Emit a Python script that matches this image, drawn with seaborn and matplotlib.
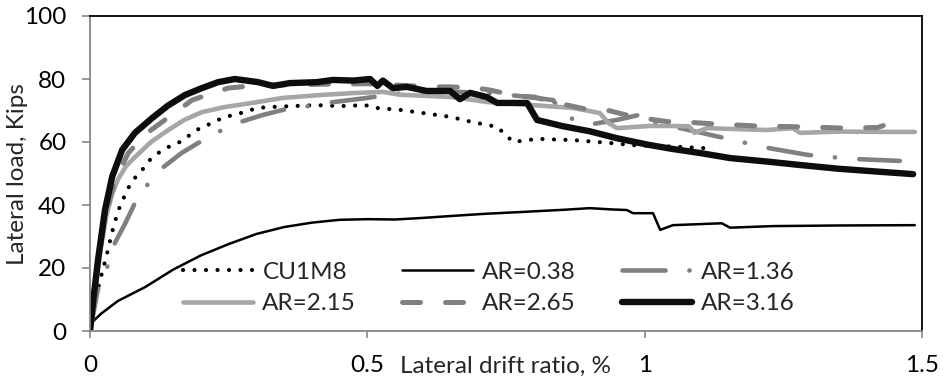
import matplotlib
matplotlib.use("Agg")
import matplotlib.pyplot as plt
import seaborn as sns
import pandas as pd

# Lateral load (kips) versus lateral drift ratio (%) for each wall
cu1m8_x = [0, 0.005, 0.01, 0.018, 0.031, 0.04, 0.05, 0.059, 0.069, 0.081, 0.094, 0.108,
           0.123, 0.141, 0.162, 0.18, 0.198, 0.22, 0.238, 0.258, 0.279, 0.301, 0.324,
           0.364, 0.409, 0.451, 0.496, 0.517, 0.559, 0.6, 0.649, 0.69, 0.734, 0.748,
           0.763, 0.806, 0.871, 0.937, 0.979, 1.03, 1.069, 1.112]
cu1m8_y = [0, 5, 10, 16, 24.8, 31.5, 37.8, 41.6, 45.4, 48.6, 51.1, 54.3, 56.5, 58.4, 60,
           62.2, 64.4, 66, 67.6, 68.6, 69.5, 70.8, 71.1, 71.4, 71.7, 71.4, 71.7, 70.8,
           70.2, 69.2, 68, 66.3, 64.8, 62.5, 60, 61, 60.6, 59.7, 59, 58.7, 58.4, 58]

ar038_x = [0, 0.005, 0.02, 0.05, 0.1, 0.15, 0.2, 0.25, 0.3, 0.35, 0.4, 0.45, 0.5,
           0.55, 0.6, 0.65, 0.712, 0.78, 0.856, 0.901, 0.94, 0.968, 0.979, 1.015,
           1.028, 1.051, 1.139, 1.154, 1.231, 1.35, 1.487]
ar038_y = [0, 3, 5.5, 9.5, 14, 19.5, 24, 27.6, 30.8, 33, 34.4, 35.3, 35.5, 35.4, 35.9,
           36.5, 37.2, 37.8, 38.5, 39, 38.6, 38.4, 37.4, 37.4, 32.1, 33.6, 34.2, 32.8,
           33.3, 33.5, 33.6]

ar136_x = [0, 0.014, 0.031, 0.045, 0.063, 0.081, 0.103, 0.132, 0.165, 0.198, 0.231,
           0.27, 0.31, 0.348, 0.39, 0.427, 0.5, 0.56, 0.65, 0.72, 0.78, 0.835, 0.853,
           0.896, 0.95, 0.99, 1.0, 1.01, 1.015, 1.1, 1.175, 1.213, 1.294, 1.338, 1.379,
           1.46]
ar136_y = [0, 13, 20.3, 28, 34, 40.6, 46.3, 52, 56.5, 60, 63.2, 66.3, 68.5, 70.2, 71.3,
           72.4, 74, 75.5, 76, 75.5, 74.5, 73.3, 68.6, 65.4, 67, 68.6, 69.5, 67, 66.3,
           63, 60, 58.4, 55.9, 55.2, 54.6, 54.0]

ar215_x = [0, 0.01, 0.02, 0.03, 0.04, 0.05, 0.065, 0.081, 0.11, 0.141, 0.17, 0.202,
           0.243, 0.292, 0.348, 0.415, 0.47, 0.528, 0.559, 0.649, 0.68, 0.715, 0.8,
           0.871, 0.919, 0.935, 0.95, 1.01, 1.04, 1.08, 1.09, 1.112, 1.22, 1.267, 1.28,
           1.35, 1.42, 1.487]
ar215_y = [0, 14, 27, 37, 43.5, 48, 52.3, 55.2, 60, 63.8, 67, 69.5, 71.1, 72.4, 74, 74.9,
           75.5, 75.9, 75, 74.3, 73.6, 72.7, 71.7, 70.8, 69.2, 66, 64.4, 65.1, 65.1, 65,
           62.9, 64.4, 63.8, 64.4, 62.9, 63.3, 63.2, 63.2]

ar265_x = [0, 0.01, 0.02, 0.03, 0.045, 0.069, 0.1, 0.135, 0.184, 0.22, 0.249, 0.3, 0.4,
           0.5, 0.56, 0.618, 0.649, 0.698, 0.721, 0.77, 0.8, 0.84, 0.9, 0.93, 0.98,
           1.04, 1.076, 1.13, 1.2, 1.285, 1.365, 1.42, 1.44, 1.46]
ar265_y = [0, 14, 28, 38, 48, 56.5, 62.5, 67, 73.3, 75.5, 77.1, 78, 78.3, 78.5, 78,
           77.5, 77.5, 77.1, 76.5, 74.6, 74.3, 72.5, 70.2, 70.2, 68, 66.5, 66.3, 65.7,
           65.1, 64.8, 64.4, 64.6, 65.8, 64.8]

ar316_x = [0, 0.006, 0.0144, 0.027, 0.04, 0.058, 0.081, 0.112, 0.14, 0.171, 0.2, 0.231,
           0.261, 0.303, 0.33, 0.36, 0.409, 0.438, 0.475, 0.505, 0.518, 0.528, 0.546,
           0.571, 0.607, 0.649, 0.667, 0.685, 0.715, 0.734, 0.788, 0.806, 0.853, 0.901,
           0.95, 1.004, 1.05, 1.1, 1.154, 1.22, 1.28, 1.35, 1.42, 1.484]
ar316_y = [0, 10, 22.5, 38.4, 49, 57.5, 62.9, 67.6, 71.5, 74.9, 77, 79, 80, 79, 77.8,
           78.7, 79, 79.7, 79.5, 80, 77.8, 79.5, 77.1, 77.5, 76.2, 76.2, 73.6, 75.6,
           74.3, 72.4, 72.4, 67, 65, 63.4, 61.2, 59.2, 57.8, 56.5, 54.9, 53.8, 52.7,
           51.5, 50.6, 49.8]

series_names = ["CU1M8", "AR=0.38", "AR=1.36", "AR=2.15", "AR=2.65", "AR=3.16"]
series_x = [cu1m8_x, ar038_x, ar136_x, ar215_x, ar265_x, ar316_x]
series_y = [cu1m8_y, ar038_y, ar136_y, ar215_y, ar265_y, ar316_y]

x_ticks = [0, 0.5, 1, 1.5]
x_tick_labels = ["0", "0.5", "1", "1.5"]
y_ticks = [0, 20, 40, 60, 80, 100]

frames = [pd.DataFrame({"drift": xs, "load": ys, "wall": name})
          for name, xs, ys in zip(series_names, series_x, series_y)]
data = pd.concat(frames, ignore_index=True)

sns.set_theme(style="white")
plt.rcParams["font.family"] = ["Lato", "DejaVu Sans"]
FS = 17.5

# colour, width (pt), dash pattern
styles = {
    "CU1M8":   dict(color="#000000", lw=3.0, ls=(0, (0.01, 2.75))),
    "AR=0.38": dict(color="#000000", lw=1.8, ls="-"),
    "AR=1.36": dict(color="#808080", lw=3.3, ls=(0, (9.4, 5.2, 0.05, 5.3))),
    "AR=2.15": dict(color="#a6a6a6", lw=3.3, ls="-"),
    "AR=2.65": dict(color="#808080", lw=3.6, ls=(0, (3.6, 5.0))),
    "AR=3.16": dict(color="#0d0d0d", lw=4.6, ls="-"),
}

fig = plt.figure(figsize=(9.43, 3.81), dpi=100)
ax = fig.add_axes([90 / 943, 1 - 331 / 381, 832 / 943, 315 / 381])

for name in series_names:
    st = styles[name]
    sns.lineplot(data=data[data["wall"] == name], x="drift", y="load", ax=ax,
                 sort=False, estimator=None, color=st["color"], linewidth=st["lw"],
                 linestyle=st["ls"], label=name, dash_capstyle="round",
                 solid_capstyle="round")

ax.set_xlim(0, 1.5)
ax.set_ylim(0, 100)
ax.set_xticks(x_ticks)
ax.set_xticklabels(x_tick_labels)
ax.set_yticks(y_ticks)
ax.set_xlabel("")
ax.set_ylabel("")

for side in ("left", "bottom"):
    ax.spines[side].set_color("#868686")
    ax.spines[side].set_linewidth(1.3)
for side in ("top", "right"):
    ax.spines[side].set_color("#000000")
    ax.spines[side].set_linewidth(1.3)
    ax.spines[side].set_visible(True)

ax.tick_params(axis="x", direction="out", length=5, width=1.2, color="#868686",
               pad=12, labelsize=FS, labelcolor="black", bottom=True)
ax.tick_params(axis="y", direction="out", length=6, width=1.2, color="#868686",
               pad=11, labelsize=FS, labelcolor="black", left=True)

fig.text(18 / 943, 1 - 174 / 381, "Lateral load, Kips", rotation=90,
         ha="center", va="center", fontsize=FS)
fig.text(505 / 943, 1 - 373 / 381, "Lateral drift ratio, %",
         ha="center", va="baseline", fontsize=FS)

handles, labels = ax.get_legend_handles_labels()
order = [0, 3, 1, 4, 2, 5]
ax.legend([handles[i] for i in order], [labels[i] for i in order], ncol=3,
          loc="center", bbox_to_anchor=(489 / 943, 1 - 288 / 381),
          bbox_transform=fig.transFigure, frameon=False, fontsize=FS,
          handlelength=2.9, handletextpad=0.37, columnspacing=1.9,
          labelspacing=0.45, borderpad=0, borderaxespad=0)

fig.savefig("out.png", dpi=100)
